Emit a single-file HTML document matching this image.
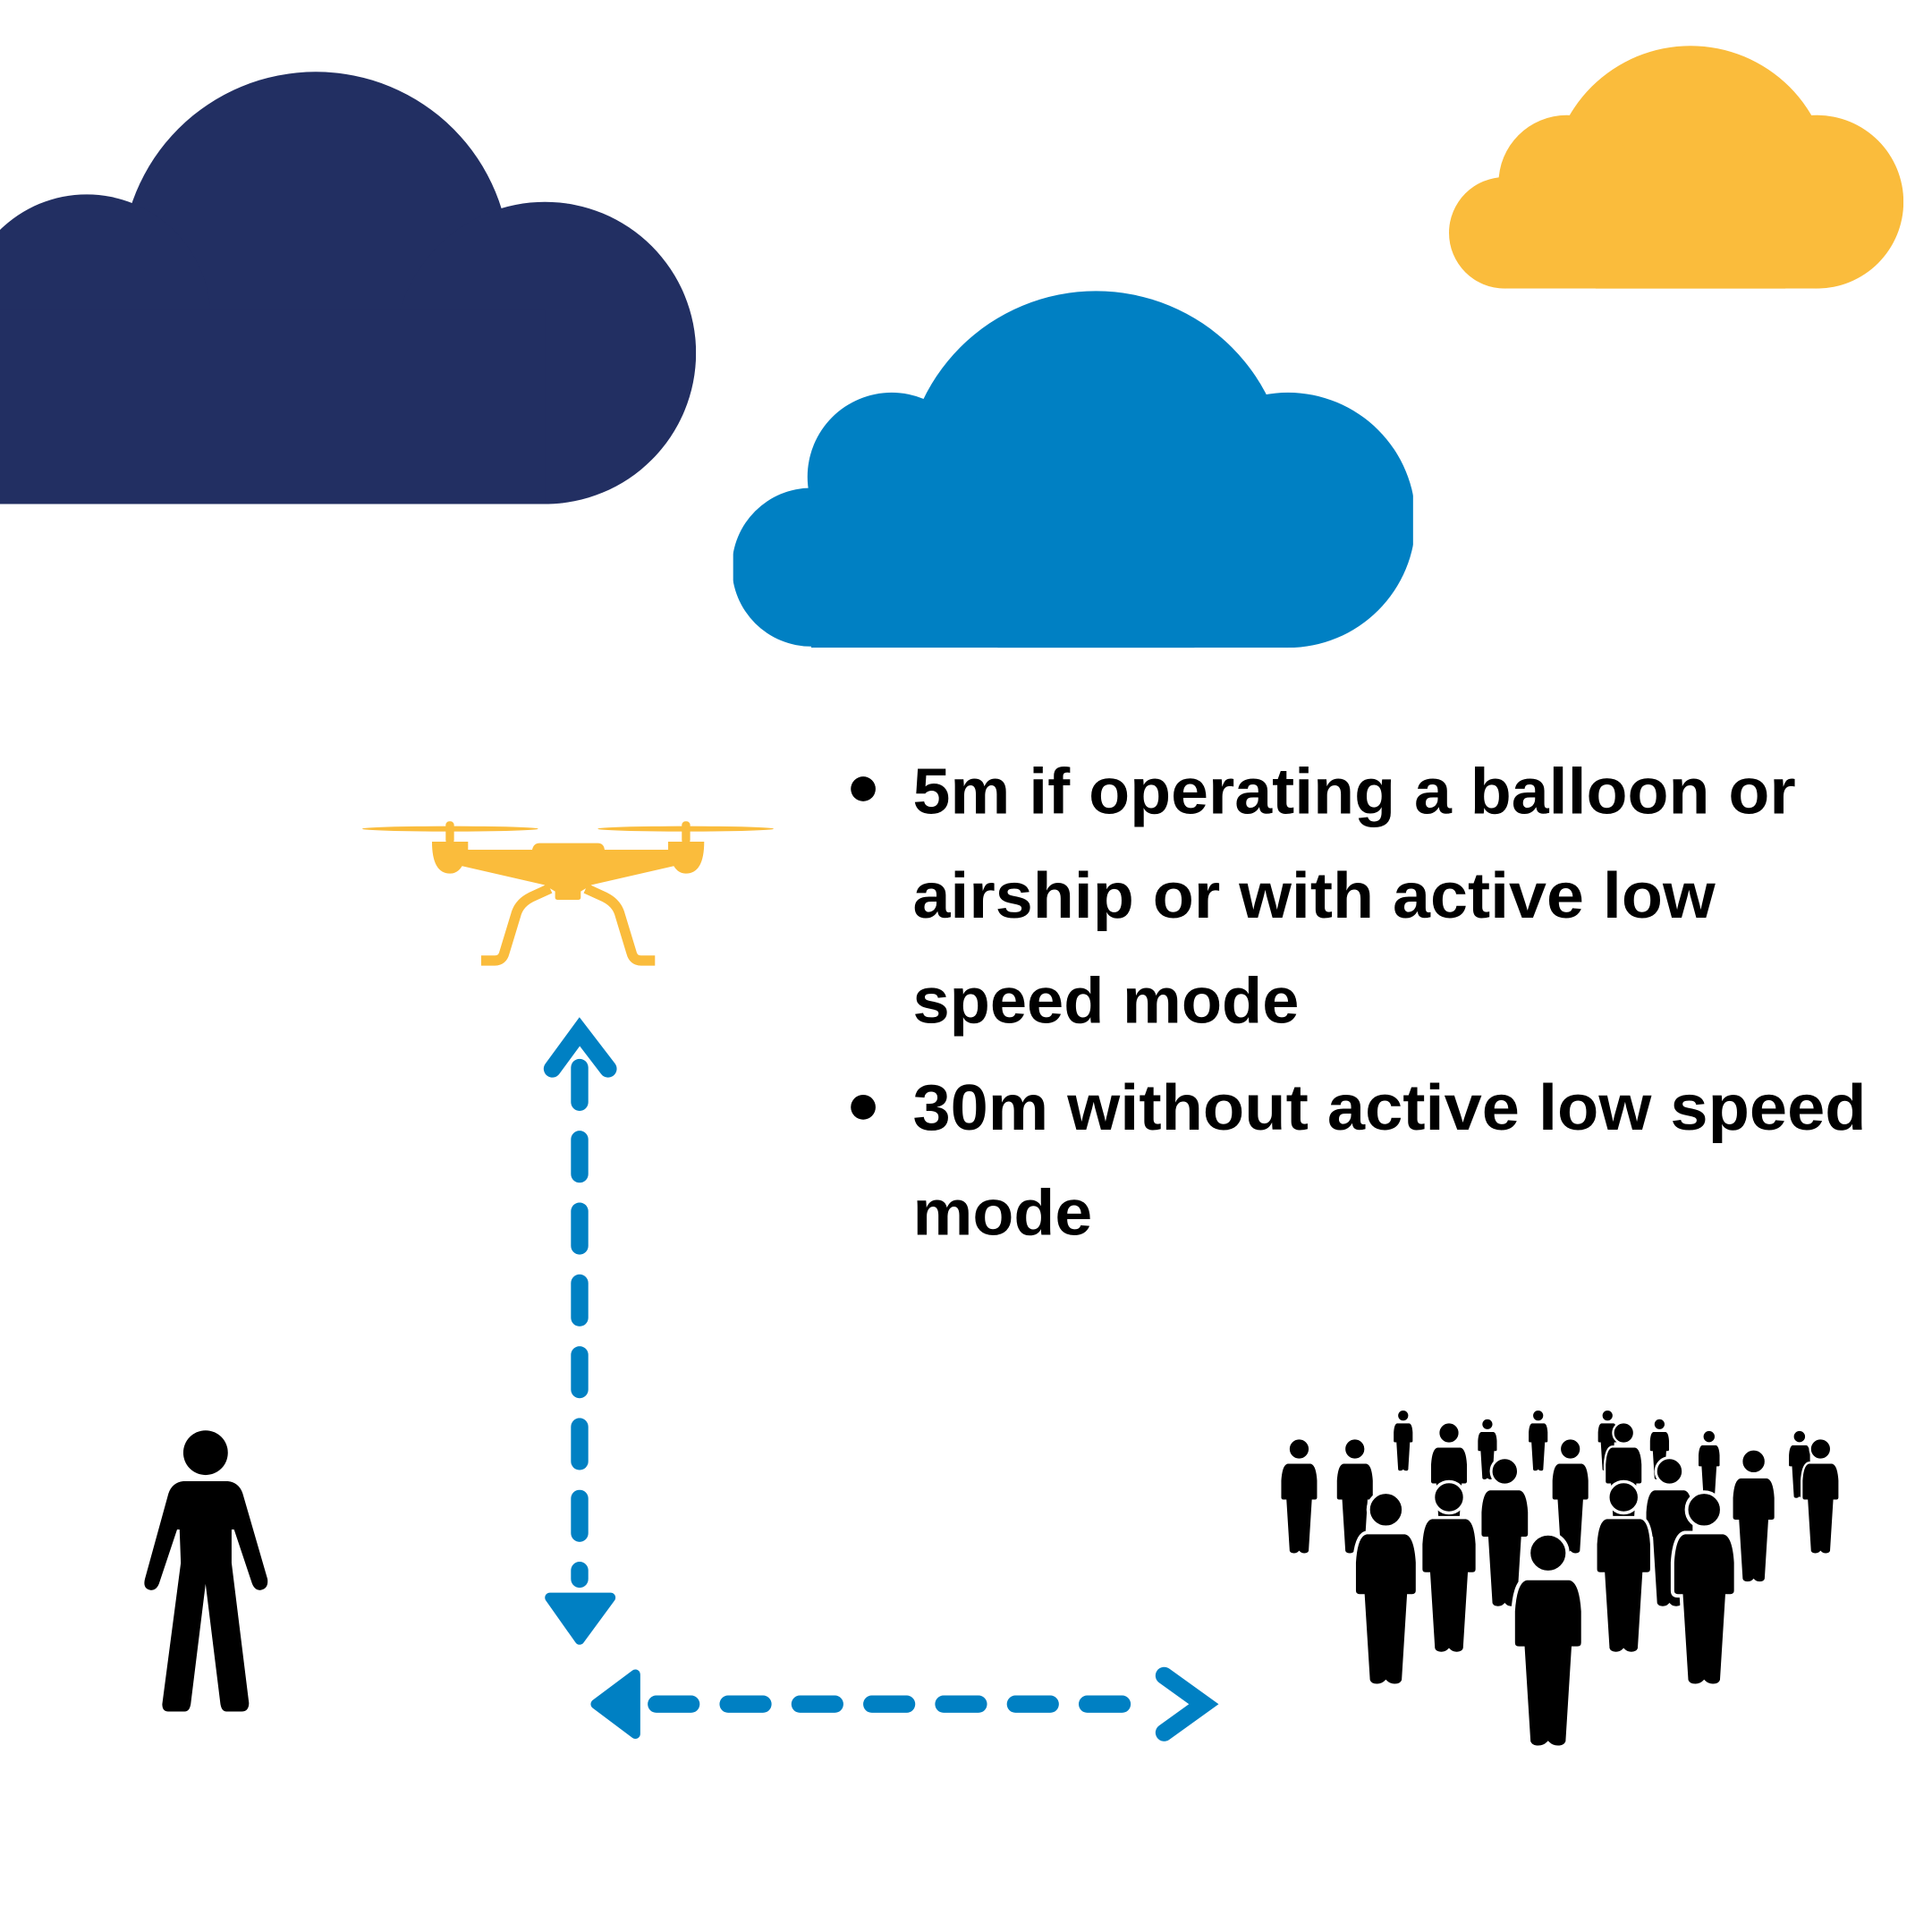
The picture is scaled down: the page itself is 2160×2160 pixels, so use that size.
<!DOCTYPE html>
<html><head><meta charset="utf-8"><style>html,body{margin:0;padding:0;background:#fff}svg{display:block}</style></head>
<body>
<svg width="2160" height="2160" viewBox="0 0 1560 1560" xmlns="http://www.w3.org/2000/svg">
<defs>
<g id="p">
<circle cx="0" cy="0" r="10" fill="#000" stroke="#fff" stroke-width="2"/>
<path d="M-11,13 H11 Q17,14 18,30 V46 Q18,49 15,49 L13,49 L10,97 Q9,100 5,100 Q2,100 0,98 Q-2,100 -5,100 Q-9,100 -10,97 L-13,49 L-15,49 Q-18,49 -18,46 V30 Q-17,14 -11,13 Z" fill="#000" stroke="#fff" stroke-width="2"/>
</g>
<clipPath id="c1"><rect x="0" y="0" width="562" height="407"/></clipPath>
<clipPath id="c2"><rect x="592" y="200" width="549" height="323"/></clipPath>
<clipPath id="c3"><rect x="1170" y="0" width="367" height="233"/></clipPath>
</defs>
<rect width="1560" height="1560" fill="#fff"/>
<!-- clouds -->
<g fill="#222F62" clip-path="url(#c1)">
<circle cx="255" cy="215" r="157"/><circle cx="70" cy="257" r="100"/><circle cx="440" cy="285" r="122"/>
<rect x="0" y="250" width="440" height="157"/>
</g>
<g fill="#0080C3" clip-path="url(#c2)">
<circle cx="885" cy="390" r="155"/><circle cx="720" cy="385" r="68"/><circle cx="655" cy="458" r="64"/><circle cx="1040" cy="420" r="103"/>
<rect x="655" y="400" width="385" height="123"/>
</g>
<g fill="#FABC3C" clip-path="url(#c3)">
<circle cx="1365" cy="150" r="113"/><circle cx="1265" cy="148" r="55"/><circle cx="1215" cy="188" r="45"/><circle cx="1467" cy="163" r="70"/>
<rect x="1215" y="150" width="252" height="83"/>
</g>
<!-- drone -->
<g transform="scale(0.7222) translate(380,900) scale(0.3333)" fill="#FABC3C">
<ellipse cx="370" cy="80" rx="295" ry="9"/><ellipse cx="1160" cy="80" rx="295" ry="9"/>
<rect x="355" y="55" width="28" height="75" rx="12"/><rect x="1147" y="55" width="28" height="75" rx="12"/>
<path d="M309,123 H430 V150 H645 Q650,128 670,128 H865 Q885,128 888,150 H1101 V123 H1222 Q1222,230 1160,230 Q1135,230 1120,205 L845,268 L808,290 V310 Q808,318 800,318 H730 Q722,318 722,310 V290 L685,268 L410,205 Q395,230 370,230 Q309,230 309,123 Z"/>
<path d="M705,280 L640,310 Q600,330 590,370 L552,495 Q545,522 520,522 H474 M825,280 L890,310 Q930,330 940,370 L978,495 Q985,522 1010,522 H1057" fill="none" stroke="#FABC3C" stroke-width="34"/>
</g>
<!-- arrows -->
<g stroke="#0080C3" stroke-width="14" stroke-linecap="round" fill="none">
<path d="M468,862 V1275" stroke-dasharray="28,30"/>
<path d="M446,863 L468,833 L491,863"/>
<path d="M530,1376 H912" stroke-dasharray="28,30"/>
<path d="M940,1353 L972,1376 L940,1399"/>
</g>
<g fill="#0080C3" stroke="#0080C3" stroke-width="8" stroke-linejoin="round">
<path d="M444,1290 H493 L468,1324 Z"/>
<path d="M481,1376 L513,1352 V1400 Z"/>
</g>
<!-- text -->
<g font-family="'Liberation Sans',sans-serif" font-weight="bold" font-size="52" fill="#000">
<circle cx="697" cy="637" r="10"/><circle cx="697" cy="894" r="10"/>
<text x="737" y="657" textLength="713" lengthAdjust="spacingAndGlyphs">5m if operating a balloon or</text>
<text x="737" y="741" textLength="648" lengthAdjust="spacingAndGlyphs">airship or with active low</text>
<text x="737" y="826" textLength="312" lengthAdjust="spacingAndGlyphs">speed mode</text>
<text x="737" y="912" textLength="770" lengthAdjust="spacingAndGlyphs">30m without active low speed</text>
<text x="737" y="997" textLength="145" lengthAdjust="spacingAndGlyphs">mode</text>
</g>
<!-- single person -->
<g fill="#000">
<circle cx="166" cy="1173" r="18"/>
<path d="M148,1196 H184 Q193,1197 196,1206 L216,1275 Q217,1283 210,1284 Q205,1284 203,1277 L189,1235 L187,1235 L187,1262 L201,1375 Q201,1382 195,1382 H183 Q179,1382 178,1376 L166,1279 L154,1376 Q153,1382 149,1382 H136 Q131,1382 131,1376 L146,1262 L145,1235 L143,1235 L129,1277 Q127,1284 122,1284 Q115,1283 117,1275 L136,1206 Q139,1197 148,1196 Z"/>
</g>
<!-- crowd -->
<use href="#p" transform="translate(1133,1143) scale(0.45)"/>
<use href="#p" transform="translate(1201,1150) scale(0.45)"/>
<use href="#p" transform="translate(1242,1143) scale(0.45)"/>
<use href="#p" transform="translate(1298,1143) scale(0.45)"/>
<use href="#p" transform="translate(1340,1150) scale(0.45)"/>
<use href="#p" transform="translate(1380,1160) scale(0.5)"/>
<use href="#p" transform="translate(1453,1160) scale(0.5)"/>
<use href="#p" transform="translate(1049,1170) scale(0.85)"/>
<use href="#p" transform="translate(1094,1170) scale(0.85)"/>
<use href="#p" transform="translate(1170,1157) scale(0.85)"/>
<use href="#p" transform="translate(1268,1170) scale(0.85)"/>
<use href="#p" transform="translate(1311,1157) scale(0.85)"/>
<use href="#p" transform="translate(1470,1170) scale(0.85)"/>
<use href="#p" transform="translate(1416,1180) scale(0.98)"/>
<use href="#p" transform="translate(1215,1188) scale(1.1)"/>
<use href="#p" transform="translate(1348,1188) scale(1.1)"/>
<use href="#p" transform="translate(1170,1209) scale(1.26)"/>
<use href="#p" transform="translate(1311,1209) scale(1.26)"/>
<use href="#p" transform="translate(1119,1219) scale(1.42)"/>
<use href="#p" transform="translate(1376,1219) scale(1.42)"/>
<use href="#p" transform="translate(1250,1254) scale(1.57)"/>
</svg>
</body></html>
